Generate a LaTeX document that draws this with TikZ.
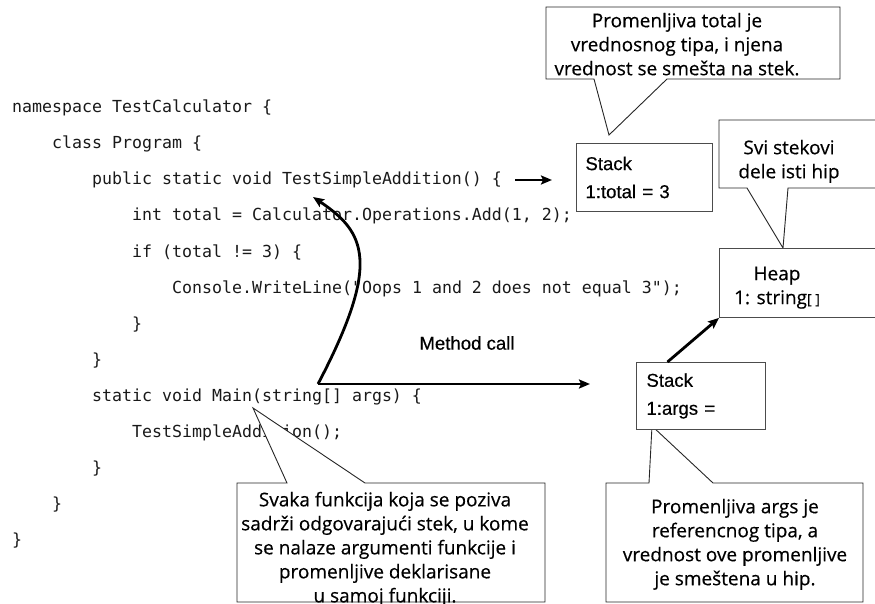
\documentclass[tikz,border=0pt]{standalone}
\usepackage{fontspec}
\setmainfont{Open Sans}
\newfontfamily\notefont[FakeBold=0.4]{Open Sans}
\newfontfamily\codefont{DejaVu Sans Mono}
\newfontfamily\labelfont[FakeBold=0.4]{Liberation Sans}
\usetikzlibrary{arrows.meta}

\begin{document}
\begin{tikzpicture}[x=1pt,y=-1pt,
  code/.style={anchor=base west, inner sep=0pt, text=black!90,
    font=\codefont\fontsize{16.6}{20}\selectfont},
  note/.style={anchor=north, inner sep=0pt, align=center,
    font=\notefont\fontsize{19}{24}\selectfont},
  bubble/.style={draw=black!85, line width=0.9pt, fill=white, line join=miter},
  memory/.style={draw=black!70, line width=0.9pt, fill=white, anchor=north west,
    inner ysep=0pt, align=left, font=\labelfont\fontsize{18.6}{28}\selectfont},
  flow/.style={line width=2.8pt, -{Stealth[length=11pt,width=9pt,inset=2pt]}},
]
\useasboundingbox (0,0) rectangle (875,604);
\clip (0,0) rectangle (875,604);

% C# source listing
\node[code] (c0)  at (12,113) {namespace TestCalculator \{};
\node[code] (c1)  at (52,149) {class Program \{};
\node[code] (c2)  at (92,185) {public static void TestSimpleAddition() \{};
\node[code] (c3)  at (132,221) {int total = Calculator.Operations.Add(1, 2);};
\node[code] (c4)  at (132,257) {if (total != 3) \{};
\node[code] (c5)  at (172,293) {Console.WriteLine("Oops 1 and 2 does not equal 3");};
\node[code] (c6)  at (132,329) {\}};
\node[code] (c7)  at (92,365) {\}};
\node[code] (c8)  at (92,401) {static void Main(string[] args) \{};
\node[code] (c9)  at (132,437) {TestSimpleAddition();};
\node[code] (c10) at (92,473) {\}};
\node[code] (c11) at (52,509) {\}};
\node[code] (c12) at (12,545) {\}};

% callout outlines
\draw[bubble] (546,7) -- (840,7) -- (840,79) -- (667,79) -- (609,135)
  -- (594,79) -- (546,79) -- cycle;
\draw[bubble] (719,120) -- (885,120) -- (885,188) -- (788,188) -- (783,248)
  -- (747,188) -- (719,188) -- cycle;
\draw[bubble] (237,483) -- (287,483) -- (253,408) -- (365,483) -- (545,483)
  -- (545,602) -- (237,602) -- cycle;
\draw[bubble] (606,483) -- (649,483) -- (652,426) -- (713,483) -- (863,483)
  -- (863,602) -- (606,602) -- cycle;

% callout texts
\node[note] (nTotal) at (677,12.6)
  {Promenljiva total je\\vrednosnog tipa, i njena\\vrednost se smešta na stek.};
\node[note] (nShare) at (789,139.6) {Svi stekovi\\dele isti hip};
\node[note] (nFunc) at (385,491.6)
  {Svaka funkcija koja se poziva\\sadrži odgovarajući stek, u kome\\se nalaze argumenti funkcije i\\promenljive deklarisane\\u samoj funkciji.};
\node[note] (nArgs) at (735,498.6)
  {Promenljiva args je\\referencnog tipa, a\\vrednost ove promenljive\\je smeštena u hip.};

% stack frames and heap
\node[memory, text width=118pt, inner xsep=9pt, minimum height=68pt] (stackT)
  at (576,143) {Stack\\1:total = 3};
\node[memory, text width=109pt, inner xsep=10pt, minimum height=67pt] (stackA)
  at (636,362) {Stack\\1:args =};
\node[draw=black!70, line width=0.9pt, fill=white, anchor=north west,
  minimum width=170pt, minimum height=69pt, inner sep=0pt] (heap) at (719,248) {};
\node[note] (heapTxt) at (777,266.4)
  {Heap\\1: string{\fontsize{14}{14}\selectfont[ ]}};

% method call arrows
\coordinate (call) at (318,384);
\coordinate (callEnd) at (590,384);
\coordinate (tsaTip) at (313,197);
\coordinate (tsaOut) at (515,180);
\coordinate (tsaIn) at (552,180);
\node[font=\labelfont\fontsize{18.6}{22}\selectfont, inner sep=0pt] (mcall)
  at (467,343) {Method call};
\draw[flow] (call) -- (callEnd);
\draw[flow] (call) .. controls (382,262) and (365,232) .. (tsaTip);
\draw[flow] (tsaOut) -- (tsaIn);
\draw[flow] ([xshift=-33.5pt]stackA.north) -- (heap.south west);
\end{tikzpicture}
\end{document}
